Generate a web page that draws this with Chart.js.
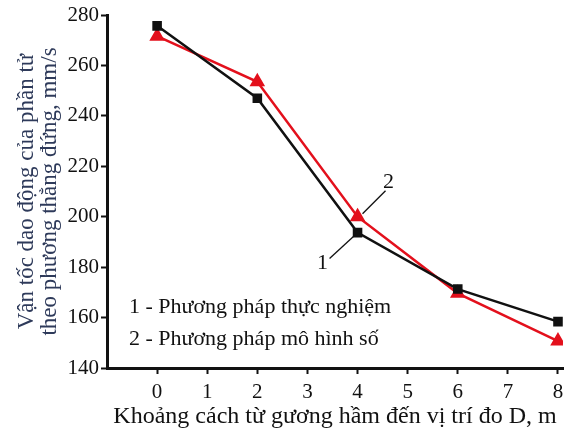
<!DOCTYPE html>
<html>
<head>
<meta charset="utf-8">
<script src="https://cdn.jsdelivr.net/npm/chart.js@4/dist/chart.umd.min.js"></script>
<style>
  html, body { margin: 0; padding: 0; background: #fff; }
  #wrap { width: 572px; height: 431px; }
</style>
</head>
<body>
<div id="wrap"><canvas id="c"></canvas></div>
<script>
// khoảng cách D, m
const distances = [0, 2, 4, 6, 8];
// 1 - thực nghiệm
const experiment = [275.7, 247.0, 193.7, 171.3, 158.4];
// 2 - mô hình số
const numerical = [271.6, 253.5, 200.0, 169.6, 150.7];

const xTickLabels = ['0', '1', '2', '3', '4', '5', '6', '7', '8'];
const legendLines = ['1 - Phương pháp thực nghiệm', '2 - Phương pháp mô hình số'];
const xTitle = 'Khoảng cách từ gương hầm đến vị trí đo D, m';
const yTitle = ['Vận tốc dao động của phần tử', 'theo phương thẳng đứng, mm/s'];

const SERIF = '"Liberation Serif", "DejaVu Serif", serif';

// chú thích trong vùng vẽ + số hiệu 1, 2 có đường dẫn
const notes = {
  id: 'notes',
  afterDatasetsDraw(chart) {
    const { ctx, scales: { x, y }, chartArea } = chart;
    ctx.save();
    ctx.fillStyle = '#111';
    ctx.strokeStyle = '#111';
    ctx.lineWidth = 1.3;
    ctx.font = '22px ' + SERIF;
    ctx.textBaseline = 'middle';
    ctx.textAlign = 'left';
    ctx.fillText(legendLines[0], chartArea.left + 22, 307);
    ctx.fillText(legendLines[1], chartArea.left + 22, 339);

    // "2" -> điểm mô hình số tại D = 4
    const p2x = x.getPixelForValue(distances[2]);
    const p2y = y.getPixelForValue(numerical[2]);
    ctx.beginPath();
    ctx.moveTo(p2x + 5, p2y - 3);
    ctx.lineTo(p2x + 28, p2y - 26);
    ctx.stroke();
    ctx.textAlign = 'center';
    ctx.fillText('2', p2x + 31, p2y - 34);

    // "1" -> điểm thực nghiệm tại D = 4
    const p1x = x.getPixelForValue(distances[2]);
    const p1y = y.getPixelForValue(experiment[2]);
    ctx.beginPath();
    ctx.moveTo(p1x - 3, p1y + 3);
    ctx.lineTo(p1x - 28, p1y + 26);
    ctx.stroke();
    ctx.fillText('1', p1x - 35, p1y + 31);
    ctx.restore();
  }
};

new Chart(document.getElementById('c'), {
  type: 'line',
  data: {
    datasets: [{
      label: legendLines[0],
      data: distances.map((d, i) => ({ x: d, y: experiment[i] })),
      borderColor: '#111',
      backgroundColor: '#111',
      borderWidth: 2.5,
      pointStyle: 'rect',
      pointRadius: 5,
      pointHoverRadius: 5,
      tension: 0
    }, {
      label: legendLines[1],
      data: distances.map((d, i) => ({ x: d, y: numerical[i] })),
      borderColor: '#e3101c',
      backgroundColor: '#e3101c',
      borderWidth: 2.5,
      pointStyle: 'triangle',
      pointRadius: 6.5,
      pointHoverRadius: 6.5,
      tension: 0
    }]
  },
  options: {
    responsive: true,
    maintainAspectRatio: false,
    animation: false,
    events: [],
    layout: { padding: { top: 15, right: 9, left: 0, bottom: 0 } },
    plugins: {
      legend: { display: false },
      tooltip: { enabled: false }
    },
    scales: {
      x: {
        type: 'linear',
        min: -1,
        max: 8.1,
        afterBuildTicks(scale) {
          scale.ticks = xTickLabels.map(v => ({ value: Number(v) }));
        },
        afterFit(scale) { scale.height = 63; },
        border: { display: true, color: '#111', width: 3 },
        grid: {
          drawOnChartArea: false,
          drawTicks: true,
          tickLength: 6,
          tickColor: '#111',
          tickWidth: 2
        },
        ticks: {
          color: '#111',
          padding: 6,
          maxRotation: 0,
          font: { family: SERIF, size: 21 },
          callback: v => xTickLabels[v] ?? ''
        },
        title: {
          display: true,
          text: xTitle,
          color: '#111',
          font: { family: SERIF, size: 24 },
          padding: { top: 0, bottom: 0 }
        }
      },
      y: {
        min: 140,
        max: 280,
        afterFit(scale) { scale.width = 107; },
        border: { display: true, color: '#111', width: 3 },
        grid: {
          drawOnChartArea: false,
          drawTicks: true,
          tickLength: 6,
          tickColor: '#111',
          tickWidth: c => (c.tick && c.tick.value % 20 === 0 ? 2 : 1.3)
        },
        ticks: {
          stepSize: 10,
          color: '#111',
          padding: 2,
          font: { family: SERIF, size: 21 },
          callback: v => (v % 20 === 0 ? String(v) : '')
        },
        title: {
          display: true,
          text: yTitle,
          color: '#2e3a5a',
          font: { family: SERIF, size: 23, lineHeight: 1.0 },
          padding: { top: 15, bottom: 0 }
        }
      }
    }
  },
  plugins: [notes]
});
</script>
</body>
</html>
